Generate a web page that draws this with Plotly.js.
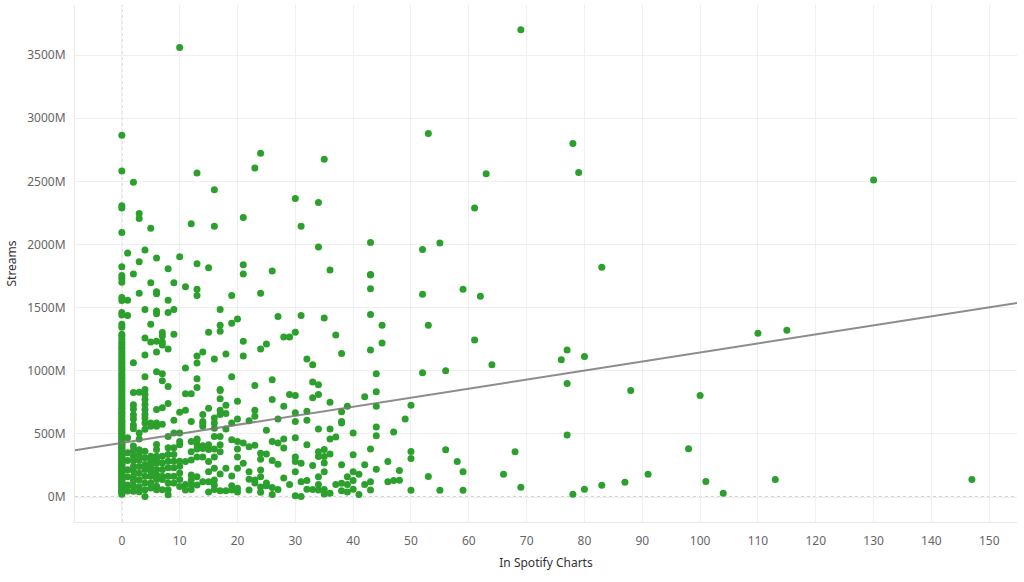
<!DOCTYPE html>
<html>
<head>
<meta charset="utf-8">
<script src="https://cdn.plot.ly/plotly-3.0.1.min.js"></script>
<style>html,body{margin:0;padding:0;background:#fff;}#chart{width:1024px;height:582px;}</style>
</head>
<body>
<div id="chart"></div>
<script>
// Streams (millions) for songs with a given "In Spotify Charts" count
const streamsAt0 = [22, 31, 38, 45, 57, 63, 71, 84, 90, 97, 106, 113, 121, 128, 137, 142, 150, 158, 166, 171, 179, 188, 195, 203, 211, 218, 224, 233, 240, 247, 256, 262, 271, 279, 286, 293, 301, 309, 317, 322, 330, 341, 348, 356, 363, 371, 380, 389, 396, 404, 413, 421, 430, 442, 451, 463, 470, 482, 491, 503, 514, 522, 537, 546, 558, 571, 583, 596, 604, 618, 633, 646, 661, 672, 689, 703, 716, 731, 748, 762, 779, 793, 808, 826, 841, 857, 874, 889, 906, 921, 938, 952, 968, 983, 1001, 1017, 1034, 1052, 1068, 1086, 1103, 1121, 1138, 1156, 1174, 1189, 1207, 1226, 1248, 1271, 1289, 1345, 1369, 1441, 1462, 1557, 1581, 1700, 1730, 1754, 1823, 2096, 2290, 2306, 2582, 2865];
const streamsAt1 = [1932, 1558, 1438, 470, 350, 290, 215, 160, 95, 48];
const streamsAt2 = [2493, 1767, 1064, 828, 731, 697, 652, 618, 571, 540, 403, 366, 320, 288, 241, 207, 161, 127, 83, 46];
const streamsAt3 = [2245, 2205, 1863, 1613, 830, 507, 459, 374, 334, 294, 241, 188, 135, 82, 42];
const streamsAt4 = [1956, 1486, 1260, 1125, 953, 852, 812, 772, 732, 693, 653, 626, 587, 536, 363, 310, 257, 217, 164, 111, 58, 3];
const streamsAt5 = [2128, 1698, 1369, 1228, 587, 560, 323, 284, 244, 204, 164, 111, 71];
const streamsAt6 = [1894, 1626, 1610, 1473, 1451, 1234, 1149, 993, 693, 587, 560, 416, 376, 322, 297, 269, 217, 177, 138, 85, 58];
const streamsAt7 = [1303, 1276, 1228, 1204, 977, 921, 706, 576, 323, 270, 217, 164, 138, 58];
const streamsAt8 = [1807, 1558, 1462, 1172, 876, 740, 480, 390, 337, 284, 231, 164, 111, 58, 18];
const streamsAt9 = [1698, 1486, 1289, 607, 507, 390, 337, 284, 231, 164, 111];
const streamsAt10 = [3560, 1902, 671, 507, 440, 414, 284, 244, 191, 138, 84];
const lowColumns = [streamsAt0, streamsAt1, streamsAt2, streamsAt3, streamsAt4, streamsAt5, streamsAt6, streamsAt7, streamsAt8, streamsAt9, streamsAt10];

// [In Spotify Charts, [streams in millions...]] for counts above 10
const higherColumns = [
  [11, [1666, 1021, 817, 687, 281, 100, 56]],
  [12, [2165, 817, 599, 440, 359, 294, 174, 134, 100, 60]],
  [13, [2566, 1847, 1645, 1597, 1117, 1061, 937, 868, 459, 451, 414, 380, 316, 160, 95]],
  [14, [1149, 653, 599, 583, 560, 406, 385, 316, 120]],
  [15, [1815, 1305, 703, 414, 377, 281, 200, 121, 40]],
  [16, [2433, 2144, 1093, 626, 587, 544, 480, 380, 316, 228, 134, 95, 60]],
  [17, [1486, 1361, 1313, 852, 844, 778, 687, 653, 480, 414, 359, 182, 50]],
  [18, [1133, 727, 661, 539, 228, 50]],
  [19, [1597, 1377, 953, 587, 454, 166, 90, 56]],
  [20, [1409, 759, 618, 440, 380, 316, 228, 70, 40]],
  [21, [2213, 1839, 1767, 1234, 1117, 427, 268]],
  [22, [604, 398, 200, 140, 56]],
  [23, [2605, 884, 687, 639, 409, 134, 110]],
  [24, [2722, 1613, 1172, 346, 300, 214, 160, 80, 37]],
  [25, [1212, 528, 340, 110, 90]],
  [26, [1791, 929, 772, 440, 290, 75, 20]],
  [27, [1430, 618, 427, 260, 60]],
  [28, [1268, 719, 459, 388, 150]],
  [29, [1268, 812, 100]],
  [30, [2364, 1305, 804, 668, 599, 470, 316, 281, 200, 10]],
  [31, [2144, 1438, 267, 120, 3]],
  [32, [1093, 679, 607, 414, 130, 61]],
  [33, [1048, 910, 786, 250, 60]],
  [34, [2332, 1980, 889, 812, 539, 359, 320, 160, 100, 56]],
  [35, [2675, 1417, 377, 320, 270, 200, 60, 24]],
  [36, [1799, 751, 539, 459, 340, 30]],
  [37, [1284, 475, 100]],
  [38, [1136, 676, 599, 587, 255, 108, 50]],
  [39, [719, 161, 100, 40]],
  [40, [507, 334, 200, 130, 61]],
  [41, [180, 20]],
  [42, [794, 255, 100]],
  [43, [2016, 1762, 1759, 1650, 1446, 1165, 380, 120, 56]],
  [44, [977, 833, 719, 555, 486, 220]],
  [45, [1361, 1220]],
  [46, [281, 120]],
  [47, [515, 130]],
  [48, [209, 133]],
  [49, [618]],
  [50, [727, 361, 305, 53]],
  [52, [1960, 1606, 985]],
  [53, [2880, 1361, 162]],
  [55, [2012, 53]],
  [56, [1000, 374]],
  [58, [281]],
  [59, [1646, 201, 53]],
  [61, [2289, 1244]],
  [62, [1591]],
  [63, [2561]],
  [64, [1048]],
  [66, [181]],
  [68, [358]],
  [69, [3700, 77]],
  [76, [1088]],
  [77, [1165, 900, 491]],
  [78, [2800, 21]],
  [79, [2570]],
  [80, [1112, 61]],
  [83, [1819, 93]],
  [87, [117]],
  [88, [844]],
  [91, [180]],
  [98, [382]],
  [100, [804]],
  [101, [122]],
  [104, [29]],
  [110, [1297]],
  [113, [138]],
  [115, [1321]],
  [130, [2510]],
  [147, [138]]
];

// Linear trend line of the full dataset
const trendIntercept = 429;   // streams (M) at 0 charts
const trendSlope = 7.16;      // streams (M) per chart

const xTickVals = [0, 10, 20, 30, 40, 50, 60, 70, 80, 90, 100, 110, 120, 130, 140, 150];
const yTickVals = [0, 500, 1000, 1500, 2000, 2500, 3000, 3500];
const yTickText = ['0M', '500M', '1000M', '1500M', '2000M', '2500M', '3000M', '3500M'];

// Build point lists
const xs = [], ys = [];
lowColumns.forEach((col, i) => col.forEach(v => { xs.push(i); ys.push(v); }));
higherColumns.forEach(([c, vals]) => vals.forEach(v => { xs.push(c); ys.push(v); }));

const xRange = [-8.1, 154.8];
const yRange = [-198, 3897];
const trendX = [xRange[0] - 5, xRange[1] + 5];
const trendY = trendX.map(x => trendIntercept + trendSlope * x);

const traces = [
  {
    x: xs, y: ys, mode: 'markers', type: 'scatter',
    marker: {color: '#2ca02c', size: 7, opacity: 1},
    showlegend: false
  },
  {
    x: trendX, y: trendY, mode: 'lines', type: 'scatter',
    line: {color: 'rgba(120,120,120,0.85)', width: 2}, hoverinfo: 'skip', showlegend: false
  }
];

const font = 'Noto Sans, Open Sans, sans-serif';
const layout = {
  width: 1024, height: 582,
  margin: {l: 75, r: 7, t: 5, b: 60},
  paper_bgcolor: '#ffffff', plot_bgcolor: '#ffffff',
  font: {family: font, size: 12, color: '#666666'},
  xaxis: {
    range: xRange, tickvals: xTickVals,
    showgrid: true, gridcolor: '#efefef', gridwidth: 1,
    zeroline: false, showline: true, linecolor: '#e8e8e8', linewidth: 1,
    ticks: 'outside', ticklen: 8, tickcolor: 'rgba(0,0,0,0)',
    tickfont: {family: font, size: 12, color: '#666666'},
    title: {text: 'In Spotify Charts', font: {family: font, size: 12, color: '#333333'}, standoff: 10}
  },
  yaxis: {
    range: yRange, tickvals: yTickVals, ticktext: yTickText,
    showgrid: true, gridcolor: '#efefef', gridwidth: 1,
    zeroline: false, showline: true, linecolor: '#e8e8e8', linewidth: 1,
    ticks: 'outside', ticklen: 6, tickcolor: 'rgba(0,0,0,0)',
    tickfont: {family: font, size: 12, color: '#666666'},
    title: {text: 'Streams', font: {family: font, size: 12, color: '#333333'}, standoff: 8}
  },
  shapes: [
    {type: 'line', xref: 'x', yref: 'paper', x0: 0, x1: 0, y0: 0, y1: 1, line: {color: '#aaaaaa', width: 1, dash: 'dot'}, layer: 'below'},
    {type: 'line', xref: 'paper', yref: 'y', x0: 0, x1: 1, y0: 0, y1: 0, line: {color: '#aaaaaa', width: 1, dash: 'dot'}, layer: 'below'}
  ]
};

Plotly.newPlot('chart', traces, layout, {displayModeBar: false, staticPlot: true});
</script>
</body>
</html>
